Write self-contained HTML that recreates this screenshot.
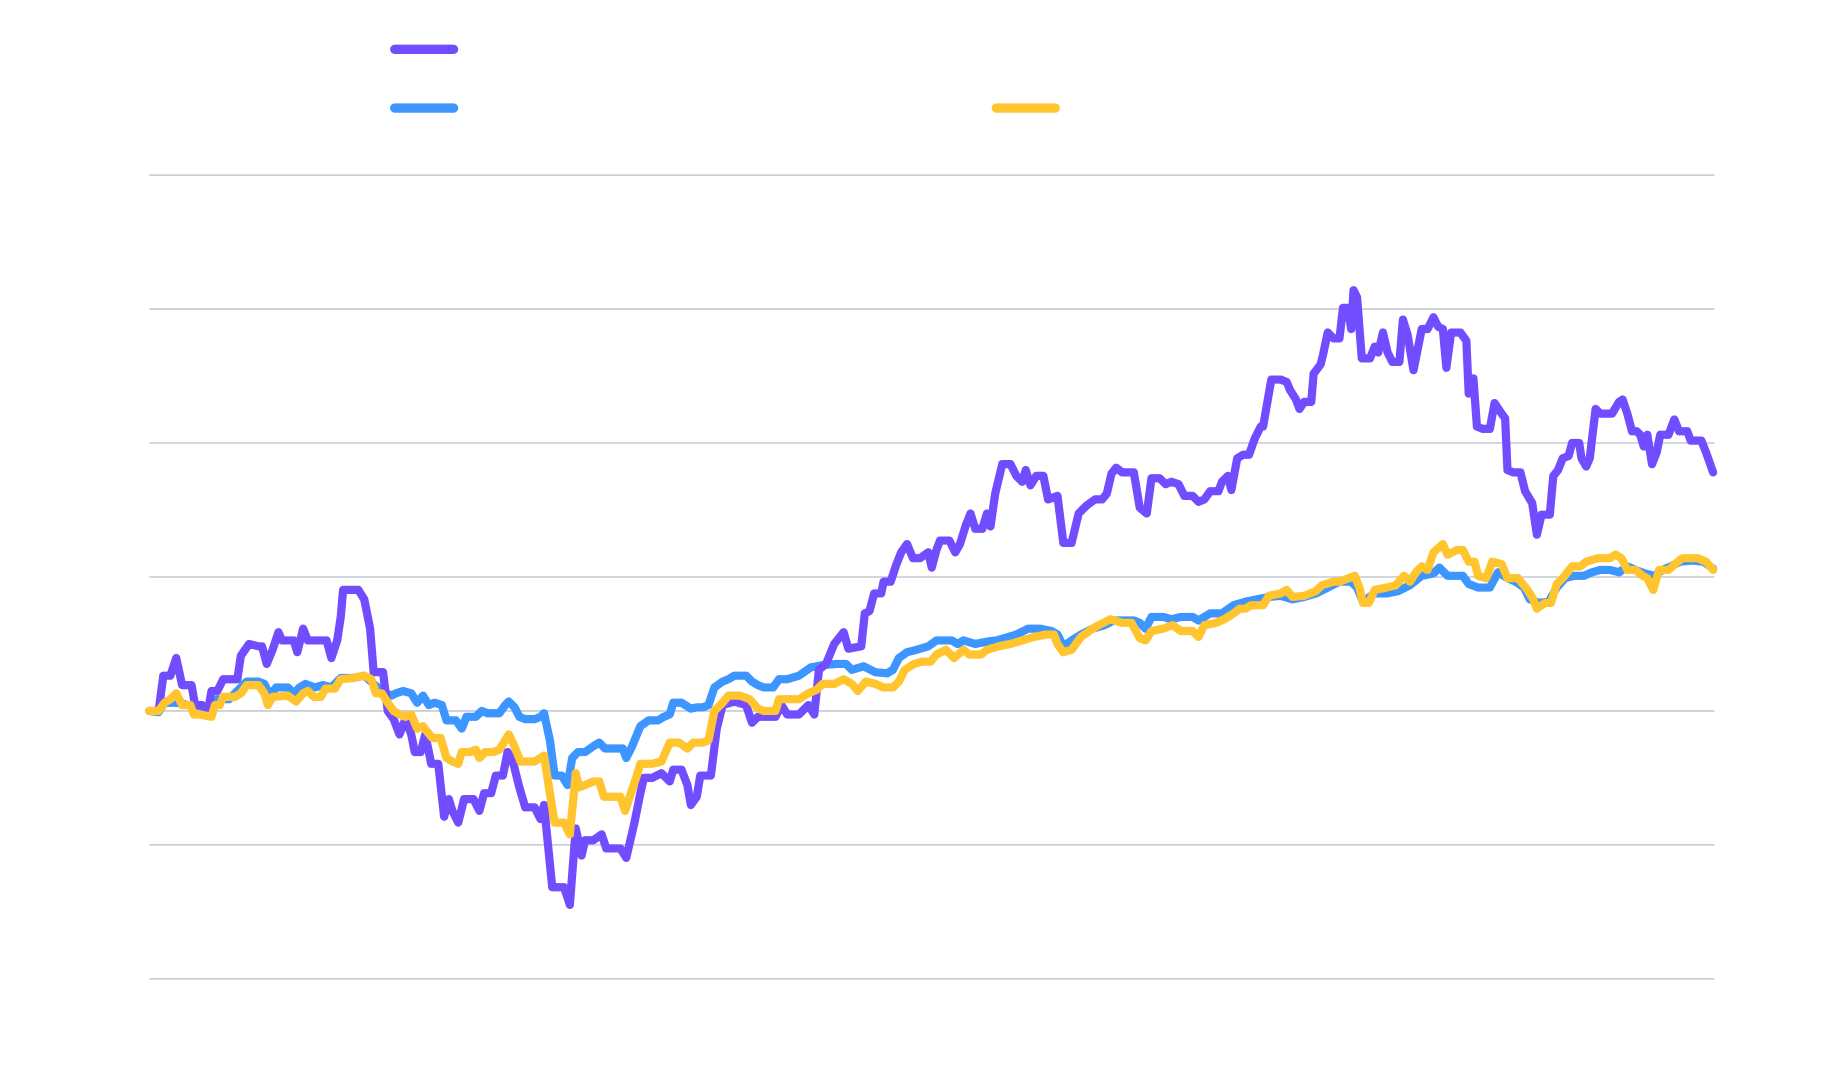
<!DOCTYPE html>
<html><head><meta charset="utf-8"><style>
html,body{margin:0;padding:0;background:#fff;}
svg{display:block;}
</style></head><body>
<svg width="1840" height="1067" viewBox="0 0 1566 908" preserveAspectRatio="none" xmlns="http://www.w3.org/2000/svg">
<rect width="1566" height="908" fill="#fff"/>
<g stroke="#b9bdcc" stroke-width="1.1">
<line x1="127" y1="149" x2="1459" y2="149"/>
<line x1="127" y1="263" x2="1459" y2="263"/>
<line x1="127" y1="377" x2="1459" y2="377"/>
<line x1="127" y1="491" x2="1459" y2="491"/>
<line x1="127" y1="605" x2="1459" y2="605"/>
<line x1="127" y1="719" x2="1459" y2="719"/>
<line x1="127" y1="833" x2="1459" y2="833"/>
</g>
<g stroke-linecap="round" stroke-width="8">
<line x1="336" y1="42" x2="386" y2="42" stroke="#724cff"/>
<line x1="336" y1="92" x2="386" y2="92" stroke="#3d95ff"/>
<line x1="848" y1="92" x2="898" y2="92" stroke="#ffc42e"/>
</g>
<g fill="none" stroke-width="7" stroke-linejoin="round" stroke-linecap="round">
<polyline stroke="#3d95ff" points="127,605 135,606 140,598 150,598 160,600 165,600 175,602 180,598 185,595 195,595 200,590 210,580 220,580 225,582 230,592 235,585 245,585 250,590 255,585 260,582 268,585 275,583 282,585 290,577 300,577 310,575 318,582 325,588 333,592 337,590 343,588 350,590 355,598 360,592 365,600 370,598 376,600 380,613 388,613 393,620 397,610 405,610 410,605 415,607 425,607 430,600 433,597 438,602 442,610 447,612 455,612 460,610 463,607 468,630 472,660 478,660 483,668 487,645 492,640 498,640 505,635 510,632 515,637 520,637 530,637 533,645 538,635 545,618 552,613 560,613 565,610 570,608 573,598 580,598 588,603 593,602 598,602 603,600 608,585 615,580 620,578 625,575 635,575 640,580 645,583 650,585 658,585 663,578 670,578 680,575 690,568 700,566 712,565 720,565 725,570 735,567 745,572 755,573 760,570 765,560 772,555 780,553 790,550 797,545 810,545 815,548 820,545 830,548 840,546 848,545 855,543 865,540 875,535 885,535 895,537 900,540 905,550 912,545 920,540 930,535 940,532 948,528 958,528 965,528 970,530 975,535 980,525 990,525 997,527 1005,525 1015,525 1020,528 1030,522 1040,522 1050,515 1060,512 1070,510 1080,508 1090,507 1100,510 1110,508 1120,505 1130,500 1140,495 1150,495 1155,500 1160,512 1170,505 1180,505 1190,503 1200,498 1210,490 1220,488 1225,483 1232,490 1245,490 1250,497 1258,500 1268,500 1275,487 1283,492 1290,495 1297,500 1302,510 1310,513 1318,512 1325,500 1332,492 1340,490 1348,490 1355,487 1362,485 1370,485 1378,487 1385,482 1392,485 1400,488 1408,490 1415,485 1422,482 1430,478 1440,477 1450,478 1458,484"/>
<polyline stroke="#724cff" points="127,605 135,605 139,575 145,575 150,560 155,583 163,583 166,600 172,600 177,605 180,588 185,588 190,578 202,578 205,558 212,548 220,550 223,550 227,565 232,553 237,538 240,545 250,545 253,555 258,535 262,545 275,545 278,545 282,560 287,545 290,525 292,502 305,502 310,510 315,535 318,572 326,572 330,605 335,612 340,625 345,612 350,625 353,640 358,640 362,625 367,650 373,650 378,695 382,680 385,690 390,700 395,680 403,680 408,690 412,675 418,675 422,660 428,660 432,640 437,650 442,670 447,687 455,687 460,697 463,685 470,755 480,755 485,770 490,705 495,728 498,715 505,715 512,710 516,722 528,722 533,730 540,700 545,675 548,662 555,662 563,658 570,665 573,655 580,655 585,668 588,685 593,678 596,660 605,660 610,620 615,600 625,597 635,600 640,615 645,610 660,610 665,600 670,608 680,608 688,600 693,608 697,570 703,565 710,548 718,538 722,552 733,550 736,522 740,520 744,505 750,505 752,495 758,495 763,480 767,470 772,463 777,475 783,475 790,470 793,483 797,468 800,460 808,460 813,470 817,463 822,447 826,437 830,450 836,450 840,437 843,448 847,420 853,395 860,395 865,405 870,410 873,400 877,413 882,405 888,405 892,425 900,422 905,462 912,462 918,437 925,430 932,425 938,425 942,420 946,403 950,398 955,402 965,402 970,432 976,437 980,407 987,407 992,412 997,410 1003,412 1008,422 1015,422 1020,427 1025,425 1030,418 1037,418 1040,410 1045,405 1048,417 1053,390 1058,387 1063,387 1068,373 1073,363 1075,363 1082,323 1090,323 1095,325 1098,332 1103,340 1106,348 1110,342 1116,342 1118,318 1124,310 1126,302 1130,283 1135,288 1140,288 1143,262 1147,262 1150,280 1152,247 1155,253 1159,305 1166,305 1170,295 1173,300 1177,283 1181,300 1185,308 1191,308 1194,272 1198,285 1203,315 1210,280 1215,280 1220,270 1224,278 1228,280 1231,313 1235,283 1243,283 1248,290 1250,335 1254,322 1257,363 1262,365 1268,365 1272,343 1278,352 1281,356 1283,400 1288,402 1294,402 1298,418 1304,428 1308,455 1312,438 1319,438 1322,405 1326,400 1330,390 1335,388 1338,377 1344,377 1346,390 1350,397 1353,390 1358,348 1362,352 1372,352 1378,342 1381,340 1385,352 1389,367 1393,367 1396,370 1399,380 1402,370 1406,395 1410,385 1413,370 1420,370 1425,357 1429,367 1436,367 1439,375 1448,375 1452,385 1458,402"/>
<polyline stroke="#ffc42e" points="127,605 135,605 140,598 145,595 150,590 155,600 162,600 165,608 170,608 180,610 183,600 187,600 190,593 200,593 205,590 210,583 220,583 225,590 228,600 232,593 245,592 252,597 258,590 262,588 267,593 273,593 277,586 285,586 290,578 300,577 310,575 316,578 320,590 325,590 330,598 335,605 340,608 345,610 350,608 355,620 360,618 363,622 368,628 375,628 380,645 385,648 390,650 393,640 400,640 405,638 408,645 413,640 420,640 425,638 430,630 433,625 437,633 443,648 455,648 460,645 463,643 468,675 472,700 480,700 485,710 490,658 493,670 498,668 505,665 510,665 514,678 528,678 532,690 537,675 542,660 545,650 555,650 563,648 570,632 578,632 585,637 590,632 598,632 603,630 608,605 615,598 620,592 630,592 638,595 645,603 650,605 660,605 663,595 670,595 680,595 688,590 695,587 700,582 710,582 718,578 725,582 730,588 737,580 745,582 752,585 760,585 765,580 770,570 778,565 785,563 792,563 797,557 805,553 812,560 820,553 825,557 835,557 840,553 850,550 860,548 870,545 880,542 890,540 897,540 900,548 905,555 912,553 920,542 930,535 935,532 945,527 955,530 963,530 970,543 975,545 980,537 990,535 998,532 1005,537 1015,537 1020,542 1025,532 1035,530 1042,527 1050,522 1055,518 1060,518 1065,515 1075,515 1080,507 1090,505 1095,502 1100,508 1110,507 1120,503 1125,498 1135,495 1140,495 1148,492 1153,490 1157,500 1160,513 1165,513 1170,502 1180,500 1188,498 1195,490 1200,495 1205,487 1210,482 1215,485 1220,470 1228,463 1232,472 1240,468 1245,468 1250,478 1255,478 1258,490 1265,492 1270,478 1278,480 1283,492 1292,492 1300,502 1305,510 1308,518 1315,513 1320,513 1325,497 1330,492 1338,482 1345,482 1350,478 1360,475 1370,475 1375,472 1380,475 1385,485 1392,485 1398,490 1402,492 1407,502 1412,485 1420,485 1428,478 1432,475 1445,475 1452,478 1458,485"/>
</g>
</svg>
</body></html>
